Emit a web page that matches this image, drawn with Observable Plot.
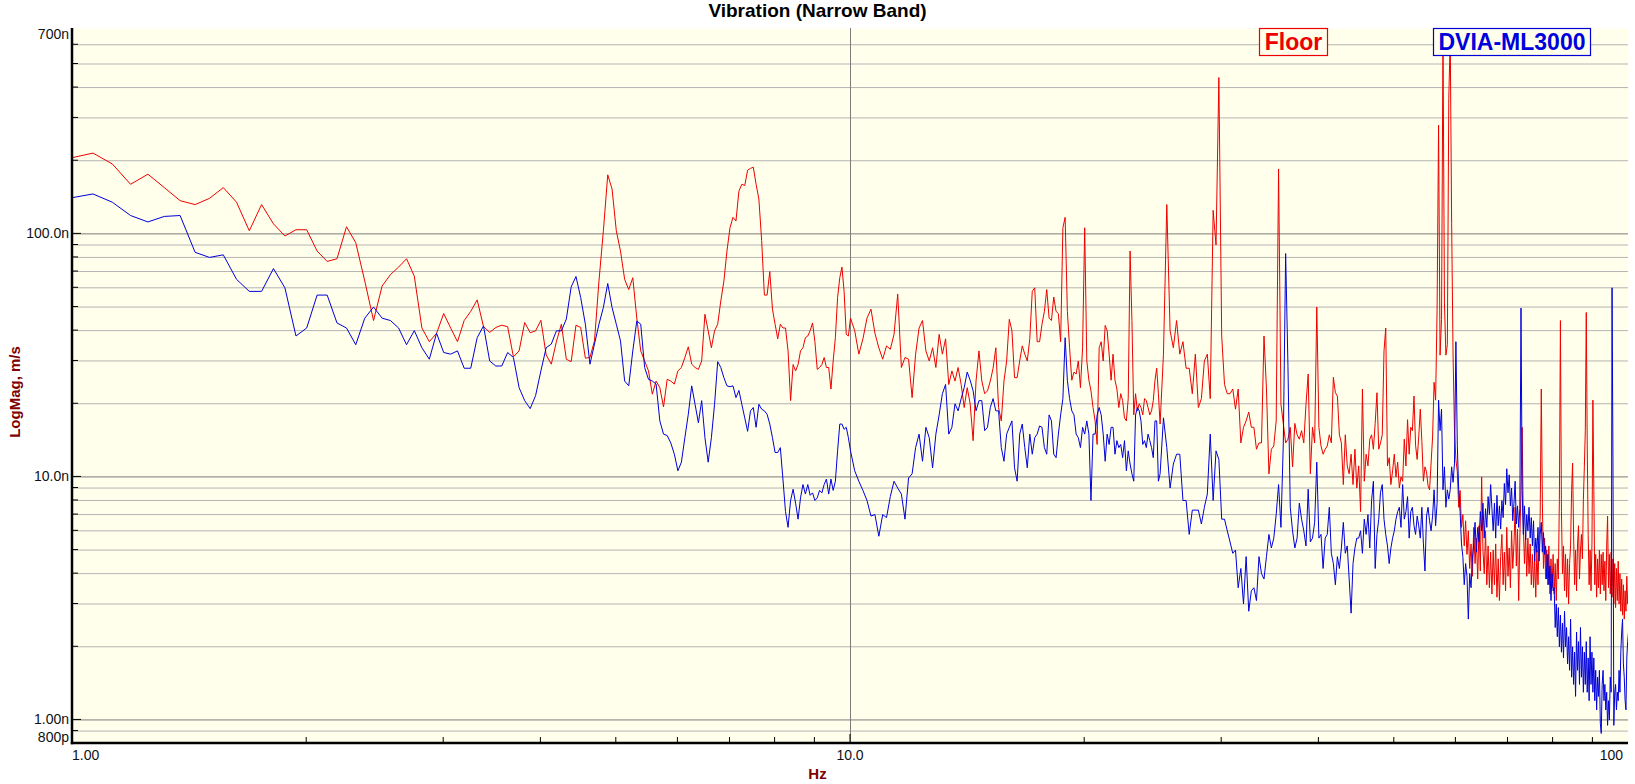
<!DOCTYPE html>
<html>
<head>
<meta charset="utf-8">
<script src="https://cdn.jsdelivr.net/npm/d3@7"></script>
<script src="https://cdn.jsdelivr.net/npm/@observablehq/plot@0.6"></script>
<style>
  html, body { margin: 0; padding: 0; background: #fff; }
  #chart svg { display: block; }
</style>
</head>
<body>
<div id="chart"></div>
<script>
// ---------------- chart text ----------------
const chartTitle = "Vibration (Narrow Band)";
const xAxisTitle = "Hz";
const yAxisTitle = "LogMag, m/s";
const seriesNames = ["Floor", "DVIA-ML3000"];
const seriesColors = ["#EE0000", "#0000DD"];

// ---------------- frequency bins (Hz) ----------------
const lowStart = 1, lowStep = 0.0625;      // 1 .. 10 Hz
const midStart = 10.125, midStep = 0.125;  // 10.125 .. 25 Hz
const highStart = 25.25, highStep = 0.25;  // 25.25 .. 100 Hz

// ---------------- magnitudes (nm/s) ----------------
const floorLow = [
  206,215,194,160,176,155,137,132,140,155,
  135,103,132,110,98,104,104,85,77,79,
  107,92,64,44,61,68,73,79,67,41,
  36,39,47,41,36,44,48,53.5,41.6,39.3,
  41.2,42.1,41.5,31.2,33,43.2,39.2,39.9,44.1,31.8,
  29.1,36,42.5,30.5,29.8,42.1,41.2,30.8,31,36.3,
  64,103,175,153,103,85,65,59,66,45,
  33,30,27.3,21.9,24.8,23.3,19.4,25.2,24.8,24.1,
  27.3,28.2,31,34.3,29.1,28.2,27.7,30,46.7,39.9,
  34,39.9,42.5,53,64,85,106,117,113,150,
  160,158,183,186,188,160,139,94,56,56,
  70,49,42.5,37,42.5,41,41,33,20.6,29,
  27.3,29,33,34,37.4,38,40,43,36,27.7,
  28.2,29,31,28.2,28.2,23,30,37.4,54.7,66,
  73,58,38.6,38,45
];
const dviaLow = [
  141,146,135,119,112,118,119,84,80,82,
  65,58,58,72,60,38,41,56,56,43,
  41,35,45,50,45,44,41,35,40,34,
  30.5,39,32.5,32,33,28,28,37.4,41.8,30,
  28.6,28.6,32.5,31,23.3,20.6,19.1,21.6,27.3,34,
  35.2,39.9,39.9,44.6,60.5,66.8,54.7,42.5,29.1,35.2,
  42.5,49.8,62.5,49.8,42.5,36.3,24.8,23.7,33,43.8,
  42.5,28.2,25.2,24.8,24.1,17,15,14.8,13.8,12.4,
  10.6,11.5,14.5,18.1,23.7,19.9,16.7,20.6,14.5,11.5,
  14.5,19.9,29.8,28.2,25.6,23.7,23.5,23.7,21.2,22.7,
  19.9,17.5,15.4,18.7,19.3,16,19.9,19,18.7,18.1,
  16.5,14.5,12.6,12.6,13.2,9.8,7.2,6.2,8,8.9,
  7.8,6.7,8.2,9.3,8.5,9.3,8.4,8.6,8,8.2,
  8.8,8.6,9.3,9.8,8.5,9.8,8.8,9.6,12.8,16.5,
  16.5,15.7,16,14.5,12.8
];
const floorMid = [
  40,32,37,45,49,39,34,30.5,34.6,33.5,
  38.6,56.5,28.2,31,30.5,21.2,32,41,44,33,
  30,34,28.2,38.6,32,37,24,27.3,24.8,28.2,
  24,19.3,23.3,20,14.1,24.8,33,24.8,22,22.6,
  24.8,28,34,19.3,17,24.8,30,44.5,40,25.6,
  25.6,30,34.6,32,30,37,58,60,36,36,
  42.5,48,59,45,44,55,48,47,36,106,
  117,48,34,25,27,26.5,30,23.3,34,106,
  30,25,22.6,19.3,17,13.6,34,36,30,42,
  40,32,25,32,25,23,19.3,22,20.6,17.5,
  17,21,85,44,18,22,18.7,20,19.3,18,
  21,20.6,19.3,18,18.7,20.6,25,28,22,16.5
];
const dviaMid = [
  10.6,9.6,8.8,8.0,6.9,7.0,5.7,7.0,6.8,8.3,
  9.6,9.0,8.5,6.7,9.9,10.3,13.2,15,11.6,16,
  14.5,10.9,15,18,22,24,15,16,20,18.7,
  21,23.3,27,25,22.6,18.7,20.6,20.6,15.5,16,
  19.3,21,18.7,18.7,13.2,11.6,15,16,17,10.9,
  9.6,15,16.5,13.2,10.9,15,12.4,14.5,15,16.2,
  16,13.2,12.4,18,17,12.4,12,15,18,21,
  37.4,25,21,18.7,18,15,14.5,13.2,16,15,
  17,15,8,15,15,18,19.3,18,15,11.6,
  15,13.6,16,16,12.4,14.1,13.2,13.6,12,14.1,
  10.6,12.8,11.3,10.3,9.6,18,19.3,18.7,17,13.6,
  14.1,13.2,15,14.1,13.2,12,17,17,9.6,10.3
];
const floorHigh = [
  32,132,40,34, 44,32,36,28, 28,22,32,19.3, 21,30,32,21,
  125,90,440,38, 24,22,22,23, 19,23,13.8,16, 17,18.5,16,16,
  13,13.8,13.8,38, 23,10.3,13,13.4, 17,185,19.9,16.6, 13.8,14.3,16,11,
  16.6,14.9,14.3,15.5, 13.8,19.9,26.5,10.3, 16,13.8,50,16, 13.4,12.4,13,13.4,
  14.9,13.8,25.7,22.2, 21.5,14.9,13.8,9.3, 14.9,11.1,10.3,12.4, 9.3,13,9,11.1,
  7.2,23,9.6,12.4, 11.1,14.3,14.9,13, 16.6,22.2,13,13.8, 14.9,33,41,11.1,
  12,9.3,10.6,12.4, 10,11.5,9,10, 9.6,14.3,11.1,17.2, 12.4,16,15.5,21.5,
  13.5,11.8,14.6,19, 14,9.6,11,10.5, 9.2,8.85,11.4,14.6, 24.5,20.7,48.5,280,
  31.7,44.5,650,52, 31.7,35,360,650, 110,31.7,15.5,11.8, 10.5,7.5,8.8,6.2,
  7.0,5.2,6.6,4.8, 6.0,4.2,5.3,3.9, 6.2,4.4,5.6,3.8, 6.3,4.1,10,5.0,
  4.0,6.0,3.6,5.2, 3.5,4.9,3.3,5.0, 3.6,5.3,3.2,4.6, 3.1,4.7,5.8,3.6,
  4.9,3.4,6.2,3.9, 5.1,3.5,6.0,4.2, 5.3,7.5,4.3,6.1, 3.1,5.6,8.8,16,
  6.3,4.4,5.8,3.9, 5.6,4.0,5.3,3.6, 4.8,3.5,4.6,3.2, 5.0,3.6,5.4,6.9,
  23,7.8,4.2,5.6, 3.8,5.0,3.6,5.2, 3.3,4.6,3.5,4.8, 3.3,4.4,3.1,4.6,
  3.8,8.1,44,7.2, 4.0,5.2,3.4,4.8, 3.2,4.6,3.0,4.4, 5.2,8.8,11.4,5.8,
  3.6,5.0,3.4,5.3, 6.3,3.8,5.0,5.8, 4.6,8.1,11,15.5, 47.5,13.5,5.8,3.6,
  5.0,3.4,5.3,20.7, 8.8,3.6,4.8,3.2, 4.6,3.5,5.0,3.3, 4.8,3.6,4.9,3.4,
  4.5,3.1,5.2,6.9, 3.5,4.8,3.3,4.9, 3.2,4.6,3.0,4.4, 2.9,4.2,3.1,4.5,
  3.0,4.0,2.8,3.8, 2.7,3.6,2.6,3.4, 2.8,3.9,3.0,3.4
];
const dviaHigh = [
  17.5,13.2,9.0,11.3, 12.4,12.4,8,8, 5.8,7.3,7.3,7.3, 6.4,7.5,8.5,15,
  8,12.8,11.8,6.7, 6.7,6,5.4,4.85, 5,3.5,4.2,3.0, 4.7,2.8,3.4,3.5,
  3.1,4.7,4.0,3.8, 4.7,5.8,5.1,5.6, 7,9.3,6.2,13.8, 83,28.5,7.5,6,
  5.1,5.6,7.8,6.7, 6,5.2,8.9,5.4, 5.6,6.5,11.5,5.6, 5.8,4.2,5.6,5.8,
  7.5,4.85,4.4,3.6, 4.7,4.2,5.1,6.5, 4.85,5.2,3.8,2.75, 4.4,5.1,5.6,5.6,
  6,4.85,6.7,5.8, 7,5.1,8,9.6, 4.2,5.8,6.7,8.65, 9.3,6.7,5.8,5.2,
  4.4,5.1,5.6,6, 6.7,7.2,7.5,6.2, 9.3,6.7,7.2,8.3, 5.6,7.2,7.5,6.3,
  5.8,6.9,6.3,5.6, 7.5,5.3,4.1,6.9, 7.5,6.6,6,6.9, 8.85,6.3,7.8,20.7,
  15.5,19,8.85,11, 7.5,8.85,8.1,8.85, 11,9.5,11.4,36, 13.5,8.8,7.2,5.3,
  4.7,3.6,4.4,3.9, 2.6,4.0,3.5,4.6, 5.3,6.5,4.9,6.2, 5.4,7.2,6.0,7.8,
  5.6,7.4,6.2,8.3, 7.0,9.3,7.4,6.0, 7.8,5.6,8.4,6.3, 7.6,6.1,8.0,6.8,
  9.4,7.7,10.8,8.6, 10.2,7.6,9.0,6.6, 7.8,9.6,6.4,7.6, 6.2,7.4,49.5,8.8,
  5.8,7.6,5.5,7.0, 6.0,7.5,5.6,6.8, 5.2,6.6,4.5,5.6, 4.9,6.2,4.5,5.8,
  6.5,4.9,5.9,4.8, 5.2,3.8,4.8,3.6, 4.3,3.1,4.0,3.4, 3.5,2.4,3.0,2.2,
  2.9,2.0,2.7,1.9, 2.5,1.8,2.8,2.0, 2.4,1.7,2.2,1.6, 2.6,1.5,2.0,1.4,
  1.9,1.25,2.3,1.6, 2.1,1.4,2.4,1.5, 2.0,1.3,1.9,1.4, 2.1,1.3,1.8,1.2,
  2.2,1.4,1.9,1.3, 1.8,1.2,1.6,1.1, 1.5,1.25,1.6,0.97, 0.88,1.4,1.6,1.2,
  1.4,1.1,1.3,0.95, 1.2,1.0,1.5,1.3, 60,12,0.95,1.3, 1.4,1.1,1.3,1.2,
  1.6,1.3,1.9,2.3, 2.6,1.7,1.5,1.2, 1.1,1.8,2.1,2.3
];

// ---------------- axes ----------------
const xDomain = [1, 100];
const yDomain = [0.8, 700];
const xTickValues = [1, 10, 100];
const xTickText = ["1.00", "10.0", "100"];
const xMinorTicks = [2,3,4,5,6,7,8,9,20,30,40,50,60,70,80,90];
const xGridValues = [10];
const yTickValues = [700, 100, 10, 1, 0.8];
const yTickText = ["700n", "100.0n", "10.0n", "1.00n", "800p"];
const yGridValues = [0.8,0.9,1,2,3,4,5,6,7,8,9,10,20,30,40,50,60,70,80,90,100,200,300,400,500,600];
const yMajorGrid = [1, 10, 100];

// ---------------- build ----------------
function block(start, step, vals) { return vals.map((v, i) => ({f: start + i * step, v})); }
const floorData = [...block(lowStart, lowStep, floorLow), ...block(midStart, midStep, floorMid), ...block(highStart, highStep, floorHigh)];
const dviaData = [...block(lowStart, lowStep, dviaLow), ...block(midStart, midStep, dviaMid), ...block(highStart, highStep, dviaHigh)];

const W = 1635, H = 784;
const FONT = "'Liberation Sans', Arial, Helvetica, sans-serif";
const plotBg = "#FFFFEB";

const chart = Plot.plot({
  width: W, height: H,
  marginLeft: 72, marginRight: 7, marginTop: 28, marginBottom: 41,
  x: {type: "log", domain: xDomain, axis: null},
  y: {type: "log", domain: yDomain, axis: null},
  style: {background: "#fff", fontFamily: FONT},
  marks: [
    Plot.frame({fill: plotBg, stroke: "none"}),
    Plot.ruleY(yGridValues.filter(v => !yMajorGrid.includes(v)), {stroke: "#b4b4b4", strokeWidth: 1}),
    Plot.ruleY(yMajorGrid, {stroke: "#7c7c7c", strokeWidth: 1}),
    Plot.ruleX(xGridValues, {stroke: "#7c7c7c", strokeWidth: 1}),
    Plot.line(floorData, {x: "f", y: "v", stroke: seriesColors[0], strokeWidth: 1, clip: true}),
    Plot.line(dviaData, {x: "f", y: "v", stroke: seriesColors[1], strokeWidth: 1, clip: true})
  ]
});
document.getElementById("chart").append(chart);

// ---------------- decorations via the plot's own scales ----------------
const svg = d3.select(chart);
const sx = chart.scale("x"), sy = chart.scale("y");
const xL = sx.apply(xDomain[0]), xR = sx.apply(xDomain[1]);
const yB = sy.apply(yDomain[0]), yT = sy.apply(yDomain[1]);
const g = svg.append("g");

// y ticks (inside, pointing right)
yGridValues.forEach(v => {
  const y = sy.apply(v);
  g.append("line").attr("x1", xL).attr("x2", xL + (yMajorGrid.includes(v) ? 9 : 6))
    .attr("y1", y).attr("y2", y).attr("stroke", "#000").attr("stroke-width", 1);
});
// x ticks (inside, pointing up)
xMinorTicks.forEach(v => {
  const x = sx.apply(v);
  g.append("line").attr("x1", x).attr("x2", x).attr("y1", yB).attr("y2", yB - 6)
    .attr("stroke", "#000").attr("stroke-width", 1);
});
xGridValues.forEach(v => {
  const x = sx.apply(v);
  g.append("line").attr("x1", x).attr("x2", x).attr("y1", yB).attr("y2", yB - 9)
    .attr("stroke", "#000").attr("stroke-width", 1);
});
// axis lines
g.append("line").attr("x1", xL).attr("x2", xL).attr("y1", yT).attr("y2", yB + 1.2)
  .attr("stroke", "#000").attr("stroke-width", 2.5);
g.append("line").attr("x1", xL - 1.2).attr("x2", xR).attr("y1", yB).attr("y2", yB)
  .attr("stroke", "#000").attr("stroke-width", 2.5);

// y tick labels
yTickValues.forEach((v, i) => {
  let y = sy.apply(v);
  y = Math.max(yT + 6, Math.min(yB - 6, y));
  g.append("text").attr("x", xL - 3).attr("y", y).attr("dy", "0.35em")
    .attr("text-anchor", "end").attr("font-family", FONT).attr("font-size", 14)
    .attr("fill", "#111").text(yTickText[i]);
});
// x tick labels
xTickValues.forEach((v, i) => {
  const x = sx.apply(v);
  const anchor = i === 0 ? "start" : (i === xTickValues.length - 1 ? "end" : "middle");
  const xx = i === xTickValues.length - 1 ? x - 5 : x;
  g.append("text").attr("x", xx).attr("y", yB + 12).attr("dy", "0.35em")
    .attr("text-anchor", anchor).attr("font-family", FONT).attr("font-size", 14)
    .attr("fill", "#111").text(xTickText[i]);
});
// axis titles
g.append("text").attr("x", W / 2).attr("y", H - 5)
  .attr("text-anchor", "middle").attr("font-family", FONT).attr("font-size", 15)
  .attr("font-weight", "bold").attr("fill", "#800000").text(xAxisTitle);
g.append("text").attr("transform", `translate(20,${H / 2}) rotate(-90)`)
  .attr("text-anchor", "middle").attr("font-family", FONT).attr("font-size", 15)
  .attr("font-weight", "bold").attr("fill", "#800000").text(yAxisTitle);
// chart title
g.append("text").attr("x", W / 2).attr("y", 17)
  .attr("text-anchor", "middle").attr("font-family", FONT).attr("font-size", 19)
  .attr("font-weight", "bold").attr("fill", "#000").text(chartTitle);

// legend boxes
const legendBoxes = [
  {x: 1259.5, w: 68},
  {x: 1433.5, w: 157}
];
seriesNames.forEach((name, i) => {
  const b = legendBoxes[i];
  g.append("rect").attr("x", b.x).attr("y", yT + 0.5).attr("width", b.w).attr("height", 27)
    .attr("fill", plotBg).attr("stroke", seriesColors[i]).attr("stroke-width", 1.2);
  g.append("text").attr("x", b.x + b.w / 2).attr("y", yT + 22)
    .attr("text-anchor", "middle").attr("font-family", FONT).attr("font-size", 23)
    .attr("font-weight", "bold").attr("fill", seriesColors[i]).text(name);
});
</script>
</body>
</html>
